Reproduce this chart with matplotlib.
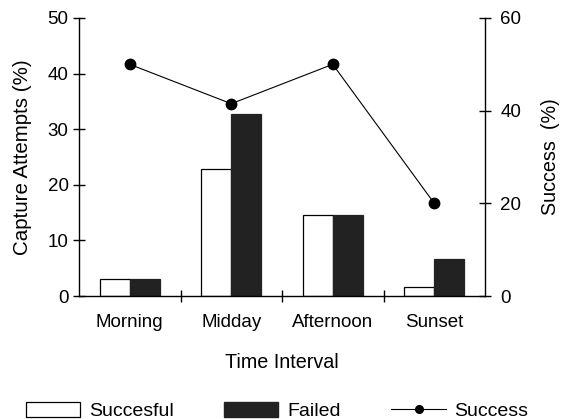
import numpy as np
import matplotlib
matplotlib.use("Agg")
import matplotlib.pyplot as plt
from matplotlib.patches import Patch
from matplotlib.lines import Line2D

plt.rcParams['font.family'] = ['Liberation Sans', 'DejaVu Sans']
plt.rcParams['font.size'] = 13.5

intervals = ["Morning", "Midday", "Afternoon", "Sunset"]
successful = [3.1, 22.9, 14.6, 1.6]
failed = [3.1, 32.8, 14.6, 6.7]
success_rate = [50, 41.5, 50, 20]

W, H = 563, 419
fig = plt.figure(figsize=(W/100, H/100), dpi=100)
ax = fig.add_axes([79/W, 1 - 296/H, (485 - 79)/W, (296 - 18)/H])
ax2 = ax.twinx()

x = np.arange(len(intervals))
w = 0.295
dark = "#222222"
ax.bar(x - w/2, successful, w, color="white", edgecolor="black", linewidth=0.9)
ax.bar(x + w/2, failed, w, color=dark, edgecolor=dark, linewidth=0.9)

ax2.plot(x, success_rate, color="black", lw=0.8, marker="o", markersize=7.5)

ax.set_xlim(-0.5, 3.5)
ax.set_ylim(0, 50)
ax2.set_ylim(0, 60)
ax.set_yticks([0, 10, 20, 30, 40, 50])
ax2.set_yticks([0, 20, 40, 60])

ax.set_xticks(x, intervals)
ax.set_xticks([0.5, 1.5, 2.5], minor=True)
ax.tick_params(axis="x", which="major", length=0, pad=13)
ax.tick_params(axis="x", which="minor", length=8, direction="inout", width=1)
ax.tick_params(axis="y", length=9, direction="inout", width=1, pad=3)
ax2.tick_params(axis="y", length=8, direction="inout", width=1, pad=7)

for a in (ax, ax2):
    a.spines["top"].set_visible(False)
    for s in ("left", "right", "bottom"):
        a.spines[s].set_linewidth(1)
ax.spines["right"].set_visible(False)
ax2.spines["left"].set_visible(False)
ax2.spines["bottom"].set_visible(False)

ax.set_ylabel("Capture Attempts (%)", fontsize=14.8, labelpad=11)
ax2.set_ylabel("Success  (%)", fontsize=14.2, labelpad=14)
ax.set_xlabel("Time Interval", fontsize=14.2, labelpad=16)

handles = [
    Patch(facecolor="white", edgecolor="black", linewidth=0.9),
    Patch(facecolor=dark, edgecolor=dark),
    Line2D([], [], color="black", lw=0.8, marker="o", markersize=5.5),
]
fig.legend(handles, ["Succesful", "Failed", "Success"], loc="center",
           bbox_to_anchor=(277/W, 8/H), ncol=3, frameon=False,
           fontsize=14, handlelength=2.8, handleheight=0.85,
           handletextpad=0.45, columnspacing=2.6,
           borderpad=0, borderaxespad=0)

fig.savefig("out.png", dpi=100)
